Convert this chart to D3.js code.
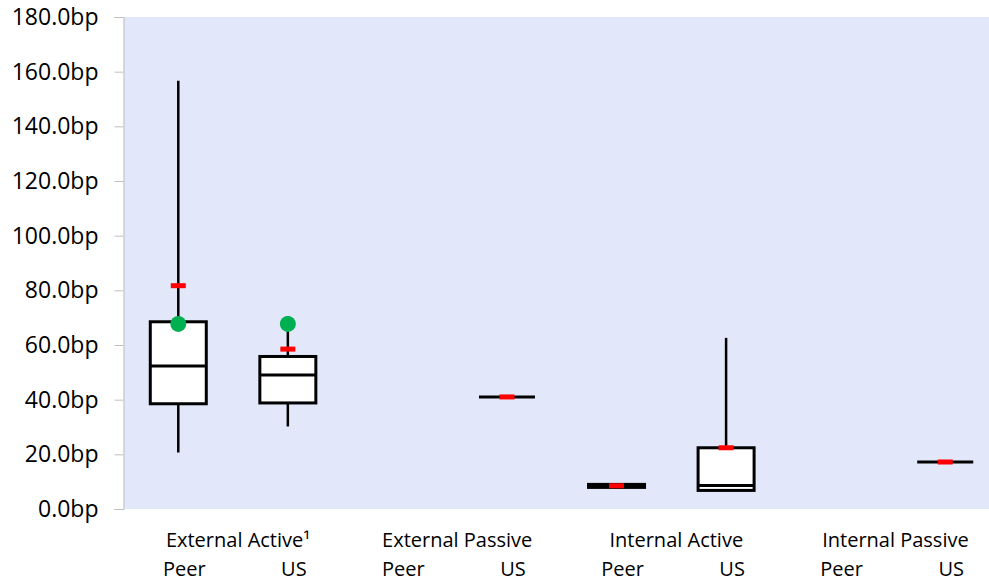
<!DOCTYPE html>
<html>
<head>
<meta charset="utf-8">
<script src="https://cdn.jsdelivr.net/npm/d3@7"></script>
<style>
  body { margin: 0; background: #fff; }
  svg { display: block; font-family: "Open Sans", sans-serif; }
</style>
</head>
<body>
<div id="chart"></div>
<script>
// data (basis points)
var groups = ["External Active¹", "External Passive", "Internal Active", "Internal Passive"];
var subLabels = ["Peer", "US"];
var categories = ["EA Peer", "EA US", "EP Peer", "EP US", "IA Peer", "IA US", "IP Peer", "IP US"];
var whiskerLow  = [20.7, 30.2, null, 41.0, 7.8, 6.5,  null, 17.2];
var q1          = [38.5, 38.8, null, 41.0, 7.9, 6.8,  null, 17.2];
var median      = [52.3, 49.0, null, 41.0, 8.5, 8.6,  null, 17.2];
var q3          = [68.5, 55.8, null, 41.0, 9.0, 22.4, null, 17.2];
var whiskerHigh = [156.7, 70.5, null, 41.0, 9.1, 62.6, null, 17.2];
var means       = [81.7, 58.5, null, 41.0, 8.5, 22.4, null, 17.2];
var usValue     = [67.7, 67.7, null, null, null, null, null, null];
var yTicks = [0, 20, 40, 60, 80, 100, 120, 140, 160, 180];

var W = 989, H = 582;
var margin = {top: 17, right: -11, bottom: 73, left: 123.5};

var svg = d3.select("#chart").append("svg")
    .attr("width", W)
    .attr("height", H);

var x = d3.scaleBand()
    .domain(categories)
    .range([margin.left, W - margin.right]);

var y = d3.scaleLinear()
    .domain([0, 180])
    .range([H - margin.bottom, margin.top]);

var rows = categories.map(function(c, i) {
  return {key: c, lo: whiskerLow[i], q1: q1[i], med: median[i], q3: q3[i],
          hi: whiskerHigh[i], mean: means[i], dot: usValue[i]};
}).filter(d => d.med != null);

// plot background
svg.append("rect")
  .attr("x", margin.left)
  .attr("y", y(180))
  .attr("width", x.range()[1] - margin.left)
  .attr("height", y(0) - y(180))
  .attr("fill", "#E2E8FA");

// y axis
var yAxis = svg.append("g")
  .attr("transform", "translate(" + margin.left + ",0)")
  .call(d3.axisLeft(y).tickValues(yTicks).tickSize(9).tickPadding(16)
        .tickFormat(d => d3.format(".1f")(d) + "bp"));
yAxis.attr("font-family", null);
yAxis.select(".domain").attr("stroke", "#BFBFBF");
yAxis.selectAll(".tick line").attr("stroke", "#BFBFBF");
yAxis.selectAll(".tick text")
  .attr("fill", "#000")
  .style("font-family", "'Open Sans', sans-serif")
  .style("font-size", "23px");

var boxW = 56;

// whiskers
svg.selectAll(".whisker")
  .data(rows)
  .enter().append("line")
  .attr("class", "whisker")
  .attr("x1", d => x(d.key) + x.bandwidth() / 2)
  .attr("x2", d => x(d.key) + x.bandwidth() / 2)
  .attr("y1", d => y(d.lo))
  .attr("y2", d => y(d.hi))
  .attr("stroke", "#000")
  .attr("stroke-width", 2.5);

// boxes
svg.selectAll(".box")
  .data(rows)
  .enter().append("rect")
  .attr("class", "box")
  .attr("x", d => x(d.key) + x.bandwidth() / 2 - boxW / 2)
  .attr("y", d => y(d.q3))
  .attr("width", boxW)
  .attr("height", d => y(d.q1) - y(d.q3))
  .attr("fill", "#fff")
  .attr("stroke", "#000")
  .attr("stroke-width", 3);

// medians
svg.selectAll(".median")
  .data(rows)
  .enter().append("line")
  .attr("class", "median")
  .attr("x1", d => x(d.key) + x.bandwidth() / 2 - boxW / 2)
  .attr("x2", d => x(d.key) + x.bandwidth() / 2 + boxW / 2)
  .attr("y1", d => y(d.med))
  .attr("y2", d => y(d.med))
  .attr("stroke", "#000")
  .attr("stroke-width", 3);

// mean markers
svg.selectAll(".mean")
  .data(rows)
  .enter().append("rect")
  .attr("class", "mean")
  .attr("x", d => x(d.key) + x.bandwidth() / 2 - 7.5)
  .attr("y", d => y(d.mean) - 2.5)
  .attr("width", 15)
  .attr("height", 5)
  .attr("fill", "#FF0000");

// green dots
svg.selectAll(".dot")
  .data(rows.filter(d => d.dot != null))
  .enter().append("circle")
  .attr("class", "dot")
  .attr("cx", d => x(d.key) + x.bandwidth() / 2)
  .attr("cy", d => y(d.dot))
  .attr("r", 8)
  .attr("fill", "#00B050");

// category labels
svg.selectAll(".sub")
  .data(categories)
  .enter().append("text")
  .attr("class", "sub")
  .attr("x", d => x(d) + x.bandwidth() / 2 + 6)
  .attr("y", 576)
  .attr("text-anchor", "middle")
  .style("font-size", "20px")
  .text((d, i) => subLabels[i % 2]);

svg.selectAll(".group")
  .data(groups)
  .enter().append("text")
  .attr("class", "group")
  .attr("x", (d, i) => x(categories[i * 2]) + x.bandwidth() + 5)
  .attr("y", 547)
  .attr("text-anchor", "middle")
  .style("font-size", "20px")
  .text(d => d);
</script>
</body>
</html>
